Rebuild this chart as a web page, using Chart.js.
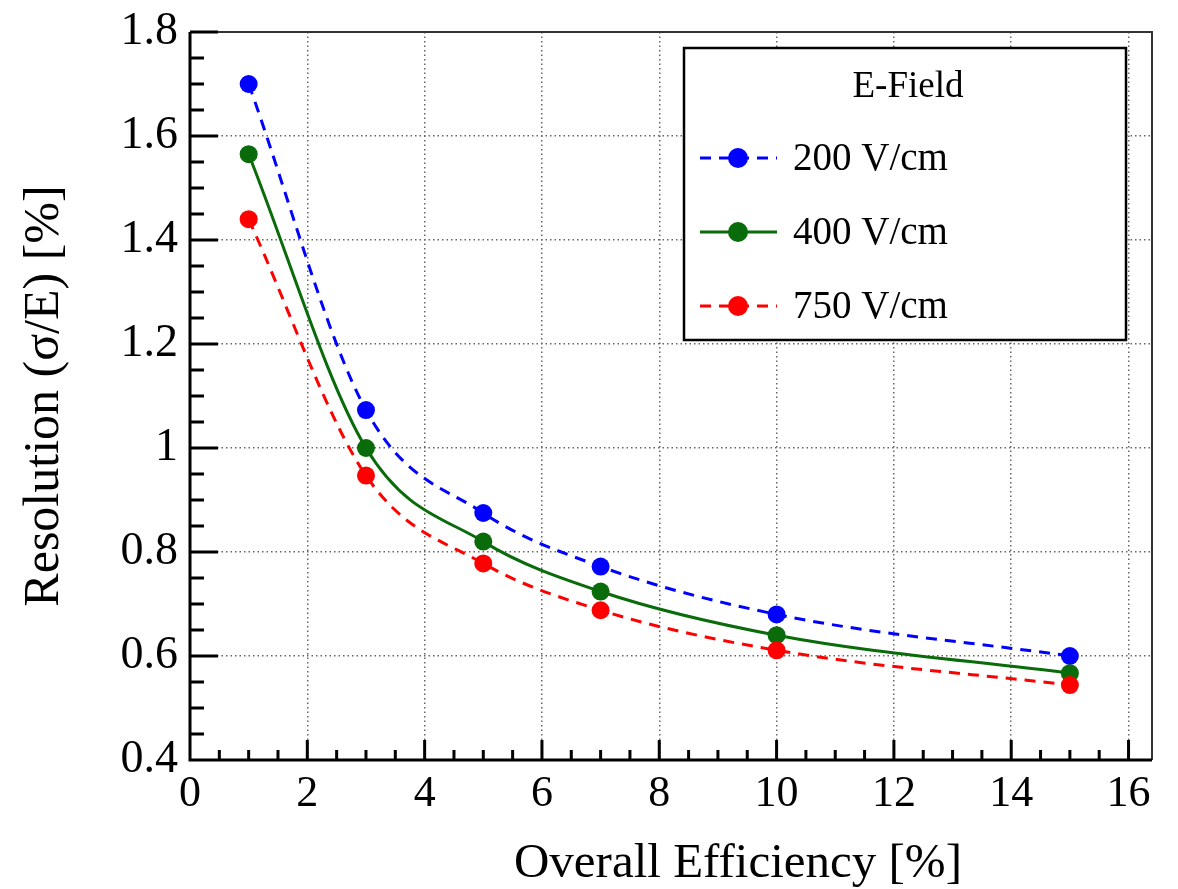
<!DOCTYPE html>
<html>
<head>
<meta charset="utf-8">
<title>Resolution vs Overall Efficiency</title>
<script src="https://cdn.jsdelivr.net/npm/chart.js@4.4.1/dist/chart.umd.min.js"></script>
<style>
  html, body { margin: 0; padding: 0; background: #fff; }
</style>
</head>
<body>
<canvas id="chart" width="1178" height="889"></canvas>
<script>
// ---------------------------------------------------------------------------
// Data
// ---------------------------------------------------------------------------
const efficiency = [1, 3, 5, 7, 10, 15];            // overall efficiency [%]
const res200 = [1.700, 1.073, 0.875, 0.772, 0.680, 0.600];
const res400 = [1.565, 1.000, 0.820, 0.724, 0.640, 0.567];
const res750 = [1.440, 0.947, 0.778, 0.688, 0.611, 0.544];
const fieldLabels = ['200 V/cm', '400 V/cm', '750 V/cm'];

const xTicks = [0, 2, 4, 6, 8, 10, 12, 14, 16];
const yTicks = [0.4, 0.6, 0.8, 1.0, 1.2, 1.4, 1.6, 1.8];

const legendTitle = 'E-Field';
const xTitle = 'Overall Efficiency [%]';
const yTitle = 'Resolution (\u03C3/E) [%]';

const FONT = "'Liberation Serif', 'Times New Roman', serif";

// ---------------------------------------------------------------------------
// Helpers
// ---------------------------------------------------------------------------
function toPoints(ys) {
    return efficiency.map(function (x, i) { return { x: x, y: ys[i] }; });
}

function fmt(v) {
    return String(Number(v.toFixed(1)));
}

function series(label, ys, color, dash, order) {
    return {
        label: label,
        data: toPoints(ys),
        borderColor: color,
        backgroundColor: color,
        borderWidth: 3,
        borderDash: dash,
        pointRadius: 9,
        pointHoverRadius: 9,
        pointBorderWidth: 0,
        pointBackgroundColor: color,
        cubicInterpolationMode: 'monotone',
        fill: false,
        order: order,
    };
}

// Frame, major + minor tick marks (ROOT style, ticks pointing inward)
const frameTicks = {
    id: 'frameTicks',
    afterDatasetsDraw: function (chart) {
        const ctx = chart.ctx;
        const a = chart.chartArea;
        const xs = chart.scales.x, ys = chart.scales.y;
        ctx.save();

        ctx.strokeStyle = '#333';
        ctx.lineWidth = 2;
        ctx.beginPath();
        ctx.moveTo(a.left, a.top);
        ctx.lineTo(a.right, a.top);
        ctx.lineTo(a.right, a.bottom);
        ctx.stroke();

        ctx.strokeStyle = '#000';
        ctx.lineWidth = 3;
        ctx.beginPath();
        ctx.moveTo(a.left, a.top);
        ctx.lineTo(a.left, a.bottom);
        ctx.lineTo(a.right, a.bottom);

        // y ticks
        yTicks.forEach(function (v, i) {
            const py = ys.getPixelForValue(v);
            ctx.moveTo(a.left, py);
            ctx.lineTo(a.left + 28, py);
            if (i < yTicks.length - 1) {
                const step = (yTicks[i + 1] - v) / 4;
                for (let k = 1; k < 4; k++) {
                    const pm = ys.getPixelForValue(v + k * step);
                    ctx.moveTo(a.left, pm);
                    ctx.lineTo(a.left + 14, pm);
                }
            }
        });

        // x ticks
        xTicks.forEach(function (v, i) {
            const px = xs.getPixelForValue(v);
            ctx.moveTo(px, a.bottom);
            ctx.lineTo(px, a.bottom - 20);
            if (i < xTicks.length - 1) {
                const step = (xTicks[i + 1] - v) / 4;
                for (let k = 1; k < 4; k++) {
                    const pm = xs.getPixelForValue(v + k * step);
                    ctx.moveTo(pm, a.bottom);
                    ctx.lineTo(pm, a.bottom - 10);
                }
            }
        });
        ctx.stroke();
        ctx.restore();
    },
    afterDraw: function (chart) {
        const ctx = chart.ctx;
        ctx.save();
        ctx.fillStyle = '#000';
        ctx.font = '49px ' + FONT;
        ctx.textAlign = 'right';
        ctx.textBaseline = 'alphabetic';
        ctx.fillText(xTitle, 962, 877);
        ctx.restore();
    }
};

// Boxed legend with a header, placed in the upper right of the frame
const boxLegend = {
    id: 'boxLegend',
    afterDatasetsDraw: function (chart) {
        const ctx = chart.ctx;
        const box = { left: 684, top: 48, right: 1126, bottom: 340 };
        ctx.save();
        ctx.fillStyle = '#fff';
        ctx.fillRect(box.left, box.top, box.right - box.left, box.bottom - box.top);
        ctx.strokeStyle = '#000';
        ctx.lineWidth = 2.5;
        ctx.strokeRect(box.left, box.top, box.right - box.left, box.bottom - box.top);

        ctx.fillStyle = '#000';
        ctx.font = '37px ' + FONT;
        ctx.textAlign = 'center';
        ctx.textBaseline = 'middle';
        ctx.fillText(legendTitle, 908, 87);

        chart.data.datasets.forEach(function (ds, i) {
            const cy = 158 + i * 74;
            ctx.strokeStyle = ds.borderColor;
            ctx.lineWidth = 3;
            ctx.setLineDash(ds.borderDash || []);
            ctx.beginPath();
            ctx.moveTo(700, cy);
            ctx.lineTo(777, cy);
            ctx.stroke();
            ctx.setLineDash([]);
            ctx.fillStyle = ds.pointBackgroundColor;
            ctx.beginPath();
            ctx.arc(738, cy, 10, 0, Math.PI * 2);
            ctx.fill();

            ctx.fillStyle = '#000';
            ctx.font = '39px ' + FONT;
            ctx.textAlign = 'left';
            ctx.fillText(ds.label, 793, cy + 2);
        });
        ctx.restore();
    }
};

// ---------------------------------------------------------------------------
// Chart
// ---------------------------------------------------------------------------
const gridStyle = {
    color: '#666',
    lineWidth: 1.5,
    drawTicks: false,
};

new Chart(document.getElementById('chart'), {
    type: 'line',
    data: {
        datasets: [
            series(fieldLabels[0], res200, '#0000ff', [11, 8], 3),
            series(fieldLabels[1], res400, '#0a6b0a', [], 2),
            series(fieldLabels[2], res750, '#ff0000', [11, 8], 1),
        ],
    },
    options: {
        responsive: false,
        devicePixelRatio: 1,
        animation: false,
        layout: { padding: { top: 32, right: 26, left: 0, bottom: 0 } },
        plugins: {
            legend: { display: false },
            tooltip: { enabled: false },
        },
        scales: {
            x: {
                type: 'linear',
                min: 0,
                max: 16.4,
                afterBuildTicks: function (s) { s.ticks = xTicks.map(function (v) { return { value: v }; }); },
                afterFit: function (s) { s.height = 129; s.paddingLeft = 0; s.paddingRight = 0; },
                grid: gridStyle,
                border: { display: false, dash: [1.5, 3] },
                ticks: {
                    color: '#000',
                    padding: 8,
                    maxRotation: 0,
                    font: { family: FONT, size: 44 },
                    callback: function (v) { return String(v); },
                },
            },
            y: {
                type: 'linear',
                min: 0.4,
                max: 1.8,
                afterBuildTicks: function (s) { s.ticks = yTicks.map(function (v) { return { value: v }; }); },
                afterFit: function (s) { s.width = 190; s.paddingTop = 0; s.paddingBottom = 0; },
                grid: gridStyle,
                border: { display: false, dash: [1.5, 3] },
                ticks: {
                    color: '#000',
                    padding: 12,
                    font: { family: FONT, size: 46 },
                    callback: function (v) { return fmt(v); },
                },
                title: {
                    display: true,
                    text: yTitle,
                    color: '#000',
                    font: { family: FONT, size: 50 },
                    padding: { top: 15, bottom: 0 },
                },
            },
        },
    },
    plugins: [frameTicks, boxLegend],
});
</script>
</body>
</html>
